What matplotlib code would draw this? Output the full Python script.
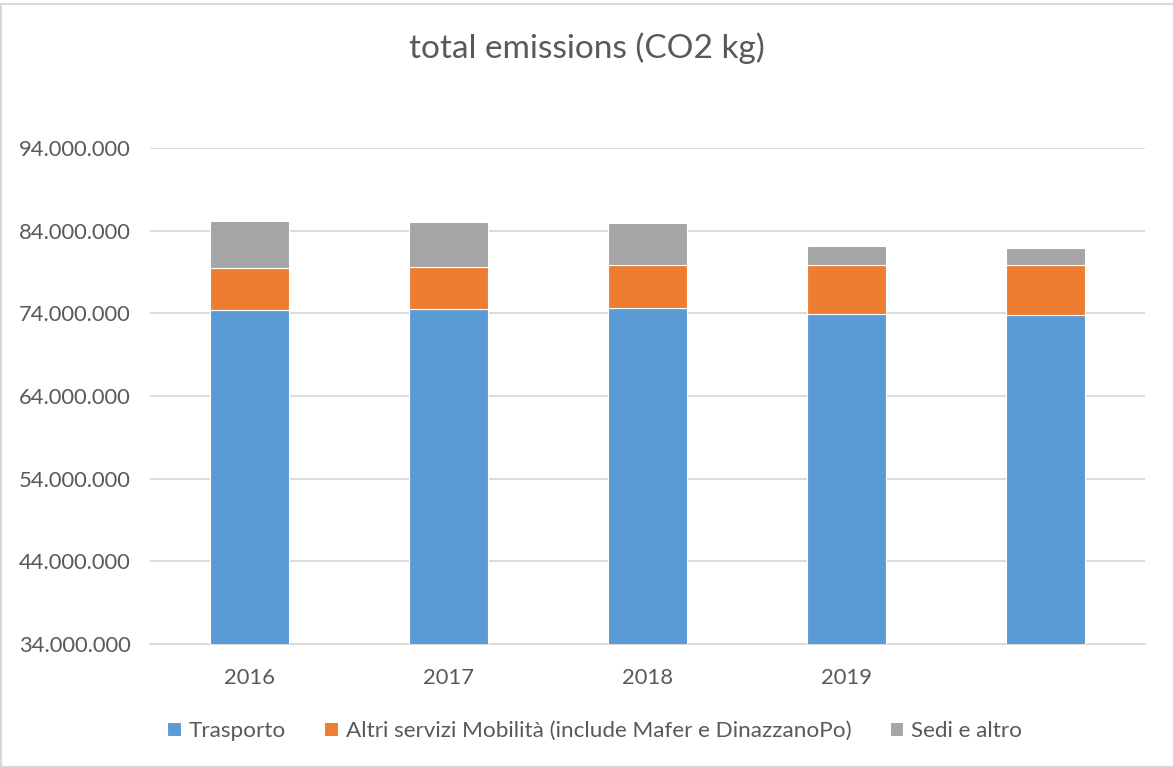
import matplotlib
matplotlib.use("Agg")
import matplotlib.pyplot as plt
import numpy as np
from matplotlib.patches import Rectangle

plt.rcParams['font.family'] = ['Lato', 'DejaVu Sans']

# dati (kg CO2)
anni = ["2016", "2017", "2018", "2019", ""]
trasporto = [74_360_000, 74_530_000, 74_600_000, 73_960_000, 73_760_000]
altri_servizi = [5_080_000, 5_080_000, 5_200_000, 5_930_000, 6_090_000]
sedi = [5_730_000, 5_390_000, 5_130_000, 2_210_000, 2_090_000]
y_ticks = [34_000_000, 44_000_000, 54_000_000, 64_000_000, 74_000_000, 84_000_000, 94_000_000]

serie = [
    ("Trasporto", trasporto, "#5b9bd5"),
    ("Altri servizi Mobilità (include Mafer e DinazzanoPo)", altri_servizi, "#ed7d31"),
    ("Sedi e altro", sedi, "#a5a5a5"),
]
grigio = "#595959"
griglia = "#d9d9d9"

fig = plt.figure(figsize=(11.73, 7.67), dpi=100)
ax = fig.add_axes([150 / 1173, 123 / 767, 995 / 1173, 496 / 767])

x = np.arange(len(anni))
base = np.zeros(len(anni))
for nome, valori, colore in serie:
    v = np.array(valori, dtype=float)
    ax.bar(x, v, width=0.4, bottom=base, color=colore, label=nome,
           edgecolor="white", linewidth=0.8, zorder=3)
    base += v

ax.set_xlim(-0.5, len(anni) - 0.5)
ax.set_ylim(y_ticks[0], y_ticks[-1])
ax.set_yticks(y_ticks)
ax.set_yticklabels([f"{t:,}".replace(",", ".") for t in y_ticks])
ax.set_xticks(x)
ax.set_xticklabels(anni)
ax.tick_params(length=0, labelsize=15.8, colors=grigio)
ax.tick_params(axis="y", pad=14)
ax.tick_params(axis="x", pad=17)
ax.yaxis.grid(True, color=griglia, linewidth=1.3, zorder=0)
ax.set_axisbelow(True)
for s in ["top", "right", "left"]:
    ax.spines[s].set_visible(False)
ax.spines["bottom"].set_color(griglia)
ax.spines["bottom"].set_linewidth(1.3)

fig.text(0.5, 1 - 48 / 767, "total emissions (CO2 kg)", ha="center", va="center",
         fontsize=24, color=grigio)

fig.legend(loc="center", bbox_to_anchor=(0.507, 1 - 731 / 767), ncol=3, frameon=False,
           fontsize=16.2, labelcolor=grigio, handlelength=0.6, handleheight=0.6,
           handletextpad=0.35, columnspacing=1.7)

# bordo del grafico
fig.patches.append(Rectangle((1 / 1173, 0), 1.2, 1 - 4 / 767, transform=fig.transFigure,
                             fill=False, edgecolor=griglia, linewidth=1.5))

fig.savefig("out.png", dpi=100, facecolor="white")
